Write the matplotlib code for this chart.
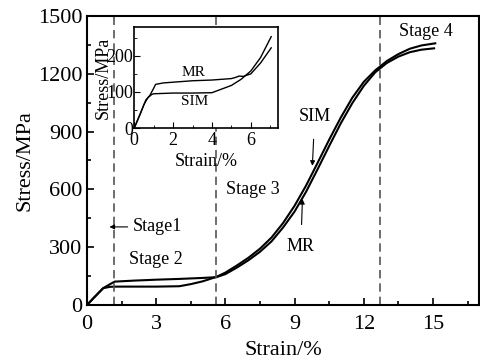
import matplotlib.pyplot as plt
import numpy as np
from matplotlib.ticker import MultipleLocator

plt.rcParams['font.family'] = ['Liberation Serif', 'DejaVu Serif']

# Main curves (strain %, stress MPa)
sim_strain = [0, 0.3, 0.7, 1.0, 1.3, 2, 3, 4, 4.5, 5, 5.6, 6, 6.5, 7, 7.5, 8,
              8.5, 9, 9.5, 10, 10.5, 11, 11.5, 12, 12.5, 13, 13.5, 14, 14.5, 15.1]
sim_stress = [0, 38, 87, 94, 95, 95, 95, 97, 108, 122, 145, 168, 205, 245, 292, 350,
              425, 515, 620, 738, 858, 972, 1075, 1158, 1218, 1266, 1302, 1330, 1347, 1358]

mr_strain = [0, 0.3, 0.7, 1.0, 1.2, 2, 3, 4, 5, 5.6, 6, 6.5, 7, 7.5, 8, 8.5,
             9, 9.5, 10, 10.5, 11, 11.5, 12, 12.5, 13, 13.5, 14, 14.5, 15.05]
mr_stress = [0, 38, 87, 108, 121, 126, 131, 135, 140, 144, 160, 194, 232, 276, 330, 402,
             485, 588, 705, 825, 942, 1047, 1137, 1208, 1256, 1289, 1312, 1325, 1332]

# Inset curves
sim_in_strain = [0, 0.3, 0.5, 0.7, 0.9, 1.0, 1.5, 2, 3, 4, 4.5, 5, 5.5, 6, 6.5, 7.05]
sim_in_stress = [0, 38, 65, 84, 93, 95, 96, 97, 97, 98, 108, 118, 135, 158, 195, 253]
mr_in_strain = [0, 0.3, 0.6, 0.8, 1.0, 1.1, 1.5, 2, 3, 4, 5, 5.2, 5.4, 5.6, 6, 6.5, 7.05]
mr_in_stress = [0, 38, 78, 90, 110, 121, 125, 127, 131, 133, 137, 140, 144, 143, 150, 180, 222]

stage_lines = [1.15, 5.6, 12.7]

fig = plt.figure(figsize=(4.81, 3.63), dpi=100)
ax = fig.add_axes([0.181, 0.160, 0.815, 0.796])

ax.plot(sim_strain, sim_stress, color='black', lw=1.5)
ax.plot(mr_strain, mr_stress, color='black', lw=1.5)

for xs in stage_lines:
    ax.axvline(xs, color='#555555', lw=1.2, ls=(0, (5, 3)))

ax.set_xlim(0, 17)
ax.set_ylim(0, 1500)
ax.xaxis.set_major_locator(MultipleLocator(3))
ax.xaxis.set_minor_locator(MultipleLocator(1.5))
ax.yaxis.set_major_locator(MultipleLocator(300))
ax.yaxis.set_minor_locator(MultipleLocator(150))
ax.tick_params(which='both', direction='in', labelsize=16, width=1.2)
ax.tick_params(which='major', length=5)
ax.tick_params(which='minor', length=3)
ax.tick_params(axis='x', which='major', pad=7)
for s in ax.spines.values():
    s.set_linewidth(1.5)
ax.set_xlabel('Strain/%', fontsize=16, labelpad=5)
ax.set_ylabel('Stress/MPa', fontsize=16, labelpad=2)

# Stage labels and arrows
ax.annotate('Stage1', xy=(0.85, 405), xytext=(2.0, 405), fontsize=13,
            ha='left', va='center',
            arrowprops=dict(arrowstyle='-|>', color='black', lw=0.8, mutation_scale=7))
ax.text(3.0, 238, 'Stage 2', fontsize=13, ha='center', va='center')
ax.text(7.2, 597, 'Stage 3', fontsize=13, ha='center', va='center')
ax.text(14.7, 1417, 'Stage 4', fontsize=13, ha='center', va='center')
ax.annotate('SIM', xy=(9.77, 722), xytext=(9.87, 976), fontsize=13,
            ha='center', va='center',
            arrowprops=dict(arrowstyle='-|>', color='black', lw=0.8, mutation_scale=7,
                            shrinkA=8, shrinkB=0))
ax.annotate('MR', xy=(9.34, 550), xytext=(9.27, 301), fontsize=13,
            ha='center', va='center',
            arrowprops=dict(arrowstyle='-|>', color='black', lw=0.8, mutation_scale=7,
                            shrinkA=8, shrinkB=0))

# Inset
axi = fig.add_axes([0.279, 0.647, 0.299, 0.279])
axi.plot(sim_in_strain, sim_in_stress, color='black', lw=1.0)
axi.plot(mr_in_strain, mr_in_stress, color='black', lw=1.0)
axi.set_xlim(0, 7.4)
axi.set_ylim(0, 280)
axi.xaxis.set_major_locator(MultipleLocator(2))
axi.xaxis.set_minor_locator(MultipleLocator(1))
axi.yaxis.set_major_locator(MultipleLocator(100))
axi.yaxis.set_minor_locator(MultipleLocator(50))
axi.tick_params(which='both', direction='in', labelsize=13, pad=1)
axi.tick_params(axis='x', which='major', pad=3)
axi.tick_params(which='major', length=4)
axi.tick_params(which='minor', length=2)
for s in axi.spines.values():
    s.set_linewidth(1.2)
axi.set_xlabel('Strain/%', fontsize=13, labelpad=3)
axi.set_ylabel('Stress/MPa', fontsize=13, labelpad=-4)
axi.text(3.04, 155, 'MR', fontsize=11, ha='center', va='center')
axi.text(3.1, 73, 'SIM', fontsize=11, ha='center', va='center')

plt.savefig('out.png', dpi=100)
